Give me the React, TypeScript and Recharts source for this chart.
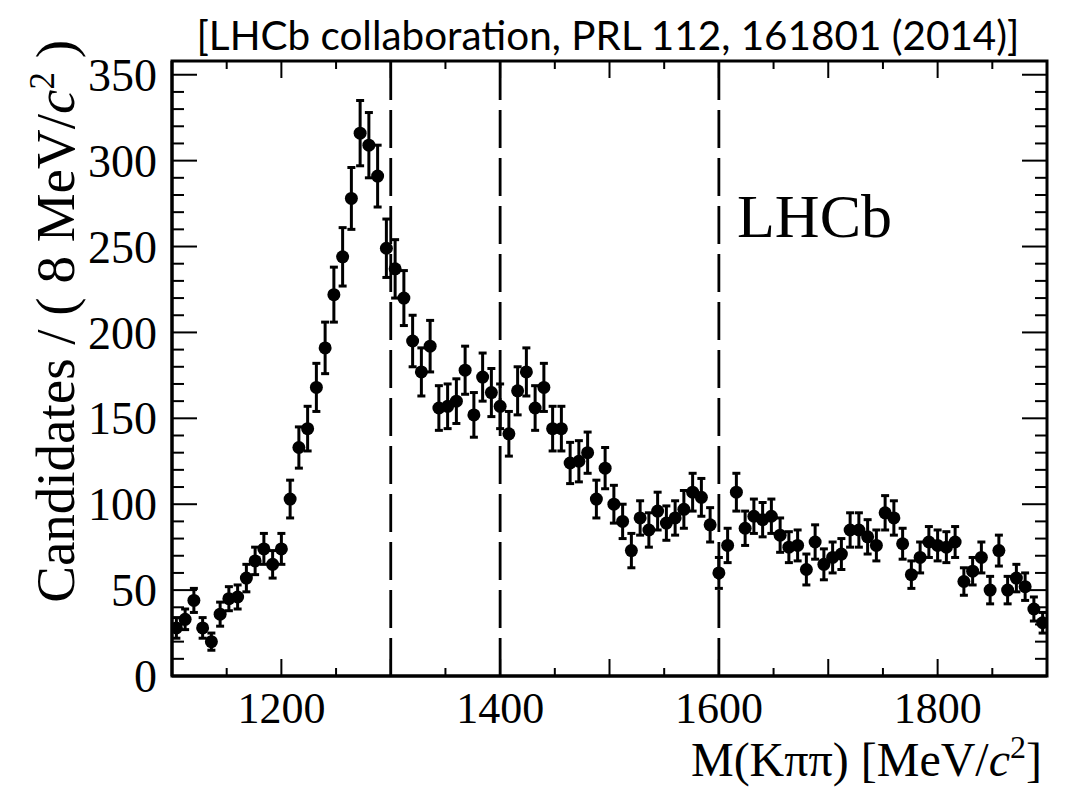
import React from "react";
import {
  ComposedChart,
  Scatter,
  ErrorBar,
  XAxis,
  YAxis,
  ReferenceLine,
  ReferenceArea,
} from "recharts";

// Bin centres of M(K pi pi) in MeV/c^2 (8 MeV bins)
const massBins = [
  1104, 1112, 1120, 1128, 1136, 1144, 1152, 1160, 1168, 1176,
  1184, 1192, 1200, 1208, 1216, 1224, 1232, 1240, 1248, 1256,
  1264, 1272, 1280, 1288, 1296, 1304, 1312, 1320, 1328, 1336,
  1344, 1352, 1360, 1368, 1376, 1384, 1392, 1400, 1408, 1416,
  1424, 1432, 1440, 1448, 1456, 1464, 1472, 1480, 1488, 1496,
  1504, 1512, 1520, 1528, 1536, 1544, 1552, 1560, 1568, 1576,
  1584, 1592, 1600, 1608, 1616, 1624, 1632, 1640, 1648, 1656,
  1664, 1672, 1680, 1688, 1696, 1704, 1712, 1720, 1728, 1736,
  1744, 1752, 1760, 1768, 1776, 1784, 1792, 1800, 1808, 1816,
  1824, 1832, 1840, 1848, 1856, 1864, 1872, 1880, 1888, 1896,
];

// Candidates per bin
const counts = [
  28, 33, 44, 28, 20, 36, 45, 46, 57, 67,
  74, 65, 74, 103, 133, 144, 168, 191, 222, 244,
  278, 316, 309, 291, 249, 237, 220, 195, 177, 192,
  156, 157, 160, 178, 152, 174, 165, 157, 141, 166,
  177, 156, 168, 144, 144, 124, 125, 130, 103, 121,
  100, 90, 73, 92, 85, 96, 89, 92, 97, 107,
  104, 88, 60, 76, 107, 86, 93, 91, 93, 82,
  75, 76, 62, 78, 65, 69, 71, 85, 85, 81,
  76, 95, 92, 77, 59, 69, 78, 76, 75, 78,
  55, 61, 69, 50, 73, 50, 57, 52, 39, 31,
];

// Symmetric uncertainties per bin
const errors = [
  6, 6, 7, 6, 5, 7, 7, 7, 8, 8,
  9, 8, 9, 11, 12, 13, 14, 15, 16, 17,
  18, 19, 19, 18, 17, 17, 16, 15, 14, 15,
  13, 13, 13, 14, 13, 14, 14, 13, 13, 14,
  14, 13, 14, 13, 13, 12, 12, 12, 11, 12,
  11, 10, 10, 10, 10, 11, 10, 10, 11, 11,
  11, 10, 9, 10, 11, 10, 10, 10, 10, 10,
  9, 9, 9, 10, 9, 9, 9, 10, 10, 10,
  9, 10, 10, 9, 8, 9, 9, 9, 9, 9,
  8, 8, 9, 8, 9, 8, 8, 8, 7, 6,
];

const xLabelTicks = [1200, 1400, 1600, 1800];
const xAllTicks = [
  1100, 1150, 1200, 1250, 1300, 1350, 1400, 1450, 1500, 1550,
  1600, 1650, 1700, 1750, 1800, 1850, 1900,
];
const yLabelTicks = [0, 50, 100, 150, 200, 250, 300, 350];
const yAllTicks = [
  0, 10, 20, 30, 40, 50, 60, 70, 80, 90,
  100, 110, 120, 130, 140, 150, 160, 170, 180, 190,
  200, 210, 220, 230, 240, 250, 260, 270, 280, 290,
  300, 310, 320, 330, 340, 350,
];
const boundaryLines = [1300, 1400, 1600];

const X_MIN = 1100;
const X_MAX = 1900;
const Y_MIN = 0;
const Y_MAX = 358;

const W = 1067;
const H = 787;
const MARGIN = { top: 61, right: 20, bottom: 110, left: 171 };
const AXIS_SIZE = 1;
const PLOT_W = W - MARGIN.left - AXIS_SIZE - MARGIN.right;
const PLOT_H = H - MARGIN.top - MARGIN.bottom - AXIS_SIZE;

const SERIF = "'Liberation Serif', 'DejaVu Serif', serif";

const data = massBins.map((m, i) => ({ m, n: counts[i], err: errors[i] }));

const XTick = (props: any) => {
  const { x, y, payload } = props;
  const v = payload.value;
  const len = v % 100 === 0 ? 17 : 8;
  return (
    <g>
      <line x1={x} x2={x} y1={y} y2={y - len} stroke="#000" strokeWidth={2} />
      <line
        x1={x}
        x2={x}
        y1={y - PLOT_H}
        y2={y - PLOT_H + len}
        stroke="#000"
        strokeWidth={2}
      />
      {xLabelTicks.includes(v) && (
        <text
          x={x}
          y={y + 47}
          textAnchor="middle"
          fontFamily={SERIF}
          fontSize={44}
          fill="#000"
        >
          {v}
        </text>
      )}
    </g>
  );
};

const YTick = (props: any) => {
  const { x, y, payload } = props;
  const v = payload.value;
  const len = v % 50 === 0 ? 25 : 12;
  return (
    <g>
      <line x1={x} x2={x + len} y1={y} y2={y} stroke="#000" strokeWidth={2} />
      <line
        x1={x + PLOT_W}
        x2={x + PLOT_W - len}
        y1={y}
        y2={y}
        stroke="#000"
        strokeWidth={2}
      />
      {yLabelTicks.includes(v) && (
        <text
          x={x - 15}
          y={y}
          dy="0.35em"
          textAnchor="end"
          fontFamily={SERIF}
          fontSize={46}
          fill="#000"
        >
          {v}
        </text>
      )}
    </g>
  );
};

const Dot = (props: any) => {
  const { cx, cy } = props;
  if (cx == null || cy == null) return null;
  return <circle cx={cx} cy={cy} r={6.5} fill="#000" />;
};

export default function App() {
  return (
    <div
      style={{
        position: "absolute",
        left: 0,
        top: 0,
        width: W,
        height: H,
        background: "#fff",
      }}
    >
      <ComposedChart width={W} height={H} margin={MARGIN} data={data}>
        <XAxis
          type="number"
          dataKey="m"
          domain={[X_MIN, X_MAX]}
          ticks={xAllTicks}
          interval={0}
          tickSize={0}
          tickMargin={0}
          height={AXIS_SIZE}
          tick={(p: any) => <XTick {...p} />}
          axisLine={{ stroke: "#000", strokeWidth: 3 }}
          tickLine={false}
          allowDataOverflow
        />
        <YAxis
          type="number"
          dataKey="n"
          domain={[Y_MIN, Y_MAX]}
          ticks={yAllTicks}
          interval={0}
          tickSize={0}
          tickMargin={0}
          width={AXIS_SIZE}
          tick={(p: any) => <YTick {...p} />}
          axisLine={{ stroke: "#000", strokeWidth: 3 }}
          tickLine={false}
          allowDataOverflow
        />
        <ReferenceArea
          x1={X_MIN}
          x2={X_MAX}
          y1={Y_MIN}
          y2={Y_MAX}
          fill="none"
          fillOpacity={0}
          stroke="#000"
          strokeWidth={3}
          ifOverflow="visible"
        />
        {boundaryLines.map((b) => (
          <ReferenceLine
            key={b}
            x={b}
            stroke="#000"
            strokeWidth={2.8}
            strokeDasharray="38 10"
          />
        ))}
        <Scatter
          data={data}
          dataKey="n"
          fill="#000"
          shape={(p: any) => <Dot {...p} />}
          isAnimationActive={false}
        >
          <ErrorBar
            dataKey="err"
            direction="y"
            width={4}
            stroke="#000"
            strokeWidth={3}
            isAnimationActive={false}
          />
        </Scatter>
      </ComposedChart>
      <svg
        width={W}
        height={H}
        style={{ position: "absolute", left: 0, top: 0, pointerEvents: "none" }}
      >
        <text
          x={608}
          y={50}
          textAnchor="middle"
          fontFamily="Lato, 'Open Sans', sans-serif"
          fontSize={41}
          textLength={823}
          lengthAdjust="spacingAndGlyphs"
          fill="#000"
        >
          [LHCb collaboration, PRL 112, 161801 (2014)]
        </text>
        <text x={737} y={237} fontFamily={SERIF} fontSize={62} fill="#000">
          LHCb
        </text>
        <text
          x={1042}
          y={776}
          textAnchor="end"
          fontFamily={SERIF}
          fontSize={48}
          fill="#000"
        >
          M(Kππ) [MeV/<tspan fontStyle="italic">c</tspan>
          <tspan dy={-18} fontSize={32}>2</tspan>
          <tspan dy={18}>]</tspan>
        </text>
        <text
          transform="translate(74,40) rotate(-90)"
          x={0}
          y={0}
          textAnchor="end"
          fontFamily={SERIF}
          fontSize={55}
          fill="#000"
        >
          Candidates / ( 8 MeV/<tspan fontStyle="italic">c</tspan>
          <tspan dy={-20} fontSize={35}>2</tspan>
          <tspan dy={20}> )</tspan>
        </text>
      </svg>
    </div>
  );
}
